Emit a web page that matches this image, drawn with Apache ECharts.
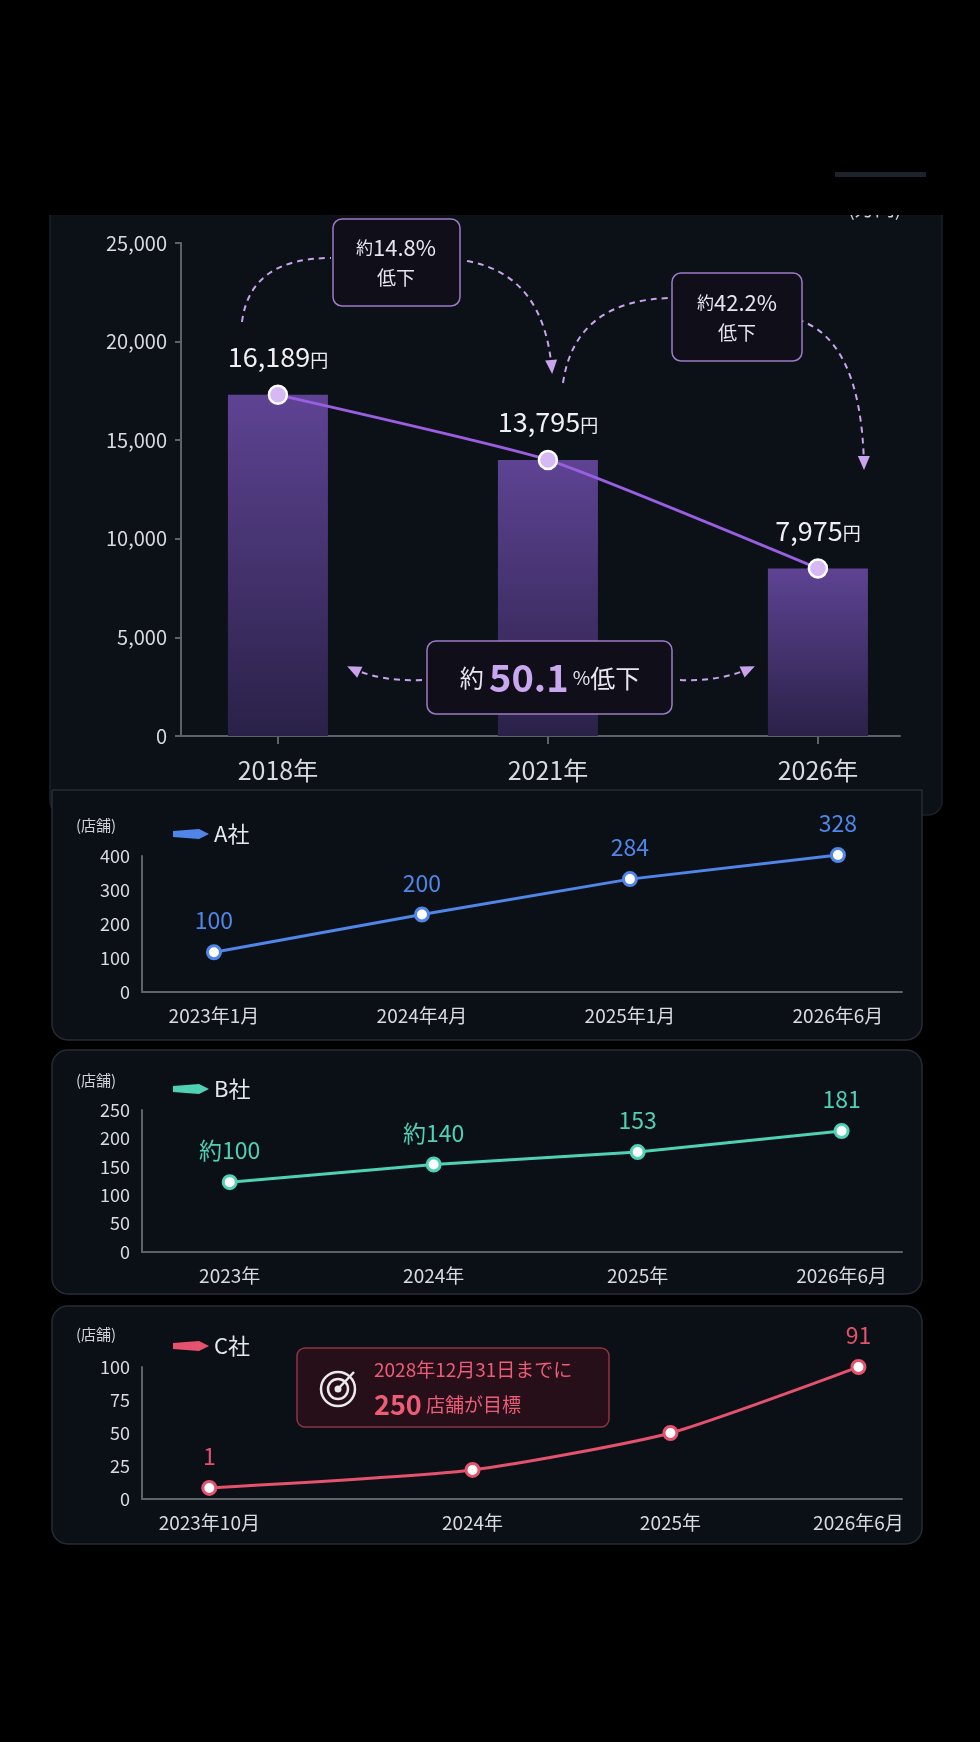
<!DOCTYPE html>
<html><head><meta charset="utf-8">
<script src="https://cdn.jsdelivr.net/npm/echarts@6/dist/echarts.min.js"></script>
<style>html,body{margin:0;background:#000;}#c{width:980px;height:1742px;}</style>
</head><body><div id="c"></div>
<script>
const FONT = '"Noto Sans CJK JP", "Noto Sans", sans-serif';
// Top chart
const priceCats = ['2018年','2021年','2026年'];
const priceVals = [17300, 14000, 8500];           // drawn heights
const priceLabels = ['16,189','13,795','7,975'];
// A
const aCats = ['2023年1月','2024年4月','2025年1月','2026年6月'];
const aVals = [117, 228, 332, 403];
const aLabels = ['100','200','284','328'];
// B
const bCats = ['2023年','2024年','2025年','2026年6月'];
const bVals = [123, 154, 176, 213];
const bLabels = ['約100','約140','153','181'];
// C
const cCats = ['2023年10月','2024年','2025年','2026年6月'];
const cPos = [0, 1.33, 2.33, 3.28];
const cVals = [8.4, 22, 50, 100];
const cLabels = ['1','','','91'];

const chart = echarts.init(document.getElementById('c'));
const axisLabelC = '#d8dbe0';
function xAx(grid, min, max, custom, names, fs, lineW){
  return {type:'value', gridIndex:grid, min, max,
    axisLine:{show:true,onZero:false,lineStyle:{color:'#5d6168',width:lineW}},
    axisTick:{show:grid===0, customValues:custom, length:8, lineStyle:{color:'#5d6168',width:2}},
    splitLine:{show:false},
    axisLabel:{customValues:custom, formatter:v=>{const i=custom.findIndex(c=>Math.abs(c-v)<1e-6);return i>=0?names[i]:'';}, color:axisLabelC, fontSize:fs, fontFamily:FONT, margin: grid===0?22:14}};
}
function yAx(grid, max, interval, fs, fmt, lineW){
  return {type:'value', gridIndex:grid, min:0, max, interval,
    axisLine:{show:true,onZero:false,lineStyle:{color:'#5d6168',width:lineW}},
    axisTick:{show:grid===0,length:6,lineStyle:{color:'#5d6168',width:2}},
    splitLine:{show:false},
    axisLabel:{color:axisLabelC,fontSize:fs,fontFamily:FONT,formatter:fmt,margin:grid===0?14:12}};
}
const sym = (c)=>({symbol:'circle',symbolSize:13,itemStyle:{color:'#fff',borderColor:c,borderWidth:3}});
function lineSeries(idx, xs, ys, labels, color){
  return Object.assign({type:'line', xAxisIndex:idx, yAxisIndex:idx, data:xs.map((x,i)=>[x,ys[i]]),
    lineStyle:{color,width:3}, z:5, clip:false,
    label:{show:true,position:'top',distance:12,color,fontSize:23,fontFamily:FONT,formatter:p=>labels[p.dataIndex]}}, sym(color));
}
const legendIcon = 'path://M0,2 L26,0 L36,5 L26,10 L0,8 Z';
const graphic = [];
function panel(x,y,w,h,r,fill,stroke){graphic.push({type:'rect',z:-10,shape:{x,y,width:w,height:h,r},style:{fill,stroke,lineWidth:1.5}});}
panel(50,190,892,625,14,'#0c1118','#1a2028');
panel(52,790,870,250,[0,0,16,16],'#0b1016','#262c34');
panel(52,1050,870,244,16,'#0b1016','#262c34');
panel(52,1306,870,238,16,'#0b1016','#262c34');
graphic.push({type:'text',z:-5,style:{text:'(万円)',x:848,y:198,fill:'#cfd2d8',font:'20px '+FONT}});
graphic.push({type:'rect',z:-4,shape:{x:0,y:0,width:980,height:215},style:{fill:'#000'}});
graphic.push({type:'rect',z:-3,shape:{x:835,y:172,width:91,height:5},style:{fill:'#1c232c'}});
[818,1073,1327].forEach(y=>graphic.push({type:'text',style:{text:'(店舗)',x:76,y,fill:'#cfd2d8',font:'15px '+FONT}}));
const arcC='#c9a3ec';
function arc(x1,y1,cx,cy,x2,y2,arrow){
  graphic.push({type:'bezierCurve',z:20,shape:{x1,y1,x2,y2,cpx1:cx,cpy1:cy},style:{stroke:arcC,lineWidth:2,lineDash:[6,5],fill:null}});
  if(arrow){const a=Math.atan2(y2-cy,x2-cx),L=12,W=6;
    const bx=x2-L*Math.cos(a),by=y2-L*Math.sin(a);
    graphic.push({type:'polygon',z:20,shape:{points:[[x2+2*Math.cos(a),y2+2*Math.sin(a)],[bx-W*Math.sin(a),by+W*Math.cos(a)],[bx+W*Math.sin(a),by-W*Math.cos(a)]]},style:{fill:arcC}});}
}
arc(242,322,250,258,331,258,false);
arc(467,261,545,275,552,372,true);
arc(563,383,575,300,671,298,false);
arc(787,317,862,330,864,468,true);
arc(422,680,380,682,349,667,true);
arc(680,680,720,682,753,667,true);
function box(x,y,w,h){graphic.push({type:'rect',z:20,shape:{x,y,width:w,height:h,r:9},style:{fill:'#100f19',stroke:'#9c7cc6',lineWidth:1.5}});}
const rs = {s:{fontSize:17,fontFamily:FONT,fill:'#e8e4f0'},b:{fontSize:22,fontFamily:FONT,fill:'#e8e4f0',lineHeight:32},c:{fontSize:19,fontFamily:FONT,fill:'#e8e4f0',align:'center',lineHeight:28}};
box(333,219,127,87);
graphic.push({type:'text',z:21,style:{text:'{s|約}{b|14.8%}\n{c|低下}',x:396,y:262,align:'center',verticalAlign:'middle',rich:rs}});
box(672,273,130,88);
graphic.push({type:'text',z:21,style:{text:'{s|約}{b|42.2%}\n{c|低下}',x:737,y:317,align:'center',verticalAlign:'middle',rich:rs}});
box(427,641,245,73);
graphic.push({type:'text',z:21,style:{text:'{s|約 }{b|50.1}{p| %}{c|低下}',x:550,y:678,align:'center',verticalAlign:'middle',rich:{s:{fontSize:24,fontFamily:FONT,fill:'#e8e4f0'},b:{fontSize:38,fontFamily:FONT,fill:'#c9a8f0',fontWeight:'bold'},p:{fontSize:19,fontFamily:FONT,fill:'#e8e4f0'},c:{fontSize:25,fontFamily:FONT,fill:'#e8e4f0'}}}});
graphic.push({type:'rect',z:20,shape:{x:297,y:1348,width:312,height:79,r:8},style:{fill:'rgba(90,15,30,0.35)',stroke:'#8e3344',lineWidth:1.5}});
graphic.push({type:'circle',z:21,shape:{cx:338,cy:1389,r:17},style:{fill:null,stroke:'#e9e9ee',lineWidth:2.5}});
graphic.push({type:'circle',z:21,shape:{cx:338,cy:1389,r:10},style:{fill:null,stroke:'#e9e9ee',lineWidth:2.5}});
graphic.push({type:'circle',z:21,shape:{cx:338,cy:1389,r:3.5},style:{fill:'#e9e9ee'}});
graphic.push({type:'line',z:21,shape:{x1:338,y1:1389,x2:354,y2:1372},style:{stroke:'#e9e9ee',lineWidth:2.5}});
graphic.push({type:'text',z:21,style:{text:'{a|2028年12月31日までに}\n{b|250}{c| 店舗が目標}',x:374,y:1388,verticalAlign:'middle',rich:{a:{fontSize:19,fontFamily:FONT,fill:'#ee5c78',lineHeight:34},b:{fontSize:27,fontFamily:FONT,fill:'#ee5c78',fontWeight:'bold',lineHeight:36},c:{fontSize:19,fontFamily:FONT,fill:'#ee5c78'}}}});

const cX = [0,1,2];
function leg(name, color, top){
  return {data:[{name, itemStyle:{color, borderWidth:0}}],left:168,top,icon:legendIcon,itemWidth:36,itemHeight:12,itemGap:10,textStyle:{color:'#e6e8ec',fontSize:22,fontFamily:FONT}};
}
chart.setOption({
  backgroundColor:'#000',
  animation:false,
  textStyle:{fontFamily:FONT},
  grid:[
    {left:181,right:80,top:243,height:493},
    {left:142,right:78,top:856,height:136},
    {left:142,right:78,top:1110,height:142},
    {left:142,right:78,top:1367,height:132}
  ],
  legend:[leg('A社','#4f86e8',818),leg('B社','#4fd1b5',1073),leg('C社','#e5526d',1330)],
  xAxis:[
    xAx(0,-0.359,2.304,cX,priceCats,25,2),
    xAx(1,-0.346,3.308,[0,1,2,3],aCats,19,2),
    xAx(2,-0.43,3.296,[0,1,2,3],bCats,19,2),
    xAx(3,-0.34,3.50,cPos,cCats,19,2)
  ],
  yAxis:[
    yAx(0,25000,5000,20,v=>v.toLocaleString('en-US'),2),
    yAx(1,400,100,18,null,2),
    yAx(2,250,50,18,null,2),
    yAx(3,100,25,18,null,2)
  ],
  series:[
    {type:'bar',xAxisIndex:0,yAxisIndex:0,barWidth:100,data:cX.map((x,i)=>[x,priceVals[i]]),
      itemStyle:{color:new echarts.graphic.LinearGradient(0,0,0,1,[{offset:0,color:'#5e4393'},{offset:1,color:'#2a2148'}])}},
    Object.assign({type:'line',xAxisIndex:0,yAxisIndex:0,data:cX.map((x,i)=>[x,priceVals[i]]),smooth:0.15,
      lineStyle:{color:'#9a5fe0',width:3},z:5,
      label:{show:true,position:'top',distance:14,formatter:p=>'{n|'+priceLabels[p.dataIndex]+'}{y|円}',rich:{n:{fontSize:27,color:'#f0f0f4',fontFamily:FONT},y:{fontSize:18,color:'#f0f0f4',fontFamily:FONT,padding:[6,0,0,0]}}}},
      {symbol:'circle',symbolSize:18,itemStyle:{color:'#d6b8f5',borderColor:'#fff',borderWidth:2.5}}),
    Object.assign(lineSeries(1,[0,1,2,3],aVals,aLabels,'#4f86e8'),{name:'A社'}),
    Object.assign(lineSeries(2,[0,1,2,3],bVals,bLabels,'#4fd1b5'),{name:'B社'}),
    Object.assign(lineSeries(3,cPos,cVals,cLabels,'#e5526d'),{name:'C社',smooth:0.2})
  ],
  graphic
});
</script></body></html>
